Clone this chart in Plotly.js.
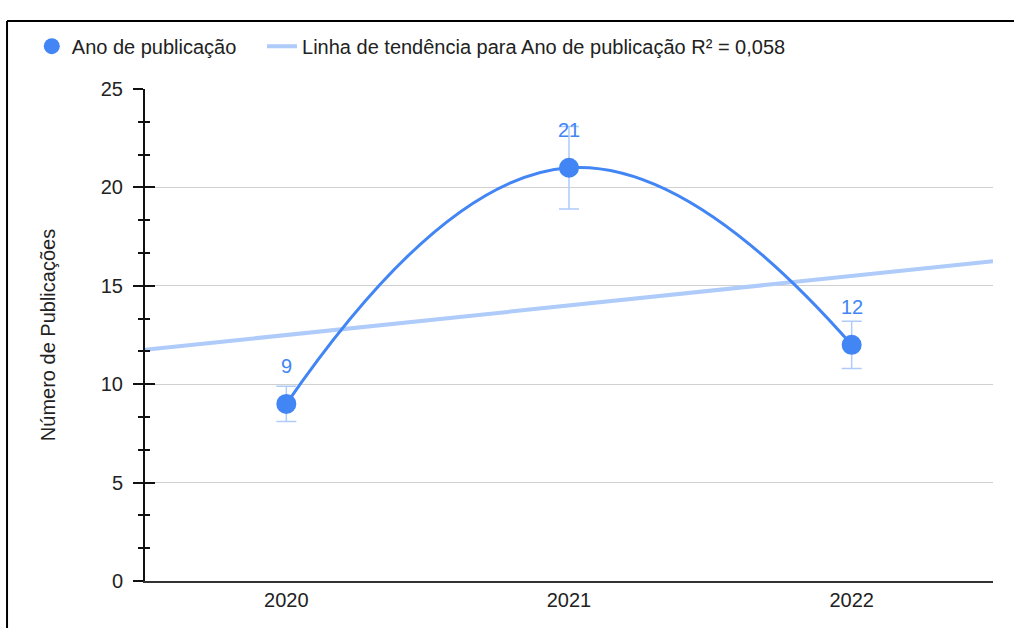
<!DOCTYPE html>
<html>
<head>
<meta charset="utf-8">
<script src="https://cdn.plot.ly/plotly-3.0.1.min.js"></script>
<style>html,body{margin:0;padding:0;background:#fff;}#chart{width:1014px;height:628px;}</style>
</head>
<body>
<div id="chart"></div>
<script>
// ---- data ----
const years = [2020, 2021, 2022];
const publications = [9, 21, 12];
const seriesName = "Ano de publicação";
const trendName = "Linha de tendência para Ano de publicação R² = 0,058";
const yTickVals = [0, 5, 10, 15, 20, 25];
const xTickLabels = ["2020", "2021", "2022"];
const errorPercent = 10;
const xRange = [2019.5, 2022.5];
const yRange = [0, 25];

// linear trend (least squares) from the data
const n = years.length;
const mx = years.reduce((a, b) => a + b, 0) / n;
const my = publications.reduce((a, b) => a + b, 0) / n;
let sxy = 0, sxx = 0;
for (let i = 0; i < n; i++) { sxy += (years[i] - mx) * (publications[i] - my); sxx += (years[i] - mx) ** 2; }
const slope = sxy / sxx, intercept = my - slope * mx;
const trendX = xRange.slice();
const trendY = trendX.map(x => intercept + slope * x);

const blue = "#4285f4";
const light = "#aecbfa";
const font = "Arial, 'Liberation Sans', sans-serif";
const fs = 20;

const traces = [
  { x: trendX, y: trendY, mode: "lines", name: trendName, line: { color: light, width: 4 }, hoverinfo: "skip", legend: "legend2" },
  { x: years, y: publications, mode: "lines", line: { color: blue, width: 3, shape: "spline", smoothing: 1.3 }, showlegend: false, hoverinfo: "skip" },
  { x: years, y: publications, mode: "markers", name: seriesName,
    marker: { color: blue, size: 20 },
    error_y: { type: "percent", value: errorPercent, color: light, thickness: 1.5, width: 10 } },
  { x: years, y: publications, mode: "markers", yaxis: "y2", marker: { color: "rgba(0,0,0,0)", size: 1 }, showlegend: false, hoverinfo: "skip" }
];

const annotations = years.map((x, i) => ({
  x: x, y: publications[i], xref: "x", yref: "y", text: String(publications[i]),
  showarrow: false, yshift: 38, font: { family: font, size: fs, color: blue }
}));

const legendCommon = { orientation: "h", xanchor: "left", y: 1.087, yanchor: "middle",
  bgcolor: "rgba(0,0,0,0)", font: { family: font, size: fs, color: "#222" }, itemwidth: 30 };

const layout = {
  width: 1014, height: 628,
  margin: { l: 145, r: 21, t: 89, b: 47 },
  paper_bgcolor: "#fff", plot_bgcolor: "#fff",
  font: { family: font, size: fs, color: "#222" },
  showlegend: true,
  legend: Object.assign({ x: -0.1335 }, legendCommon),
  legend2: Object.assign({ x: 0.138 }, legendCommon),
  xaxis: { range: xRange, tickvals: years, ticktext: xTickLabels, showgrid: false, zeroline: false,
           showline: true, linecolor: "#333", linewidth: 2, ticks: "", tickfont: { size: fs, color: "#222" } },
  yaxis: { range: yRange, tickvals: yTickVals, showgrid: true, gridcolor: "#d0d0d0", gridwidth: 1.2,
           zeroline: false, showline: true, linecolor: "#111", linewidth: 2,
           ticks: "outside", ticklen: 10, tickwidth: 2, tickcolor: "#111", ticklabelstandoff: 6,
           minor: { dtick: 5 / 3, ticks: "outside", ticklen: 5, tickwidth: 2, tickcolor: "#111", showgrid: false },
           tickfont: { size: fs, color: "#222" },
           title: { text: "Número de Publicações", font: { size: fs, color: "#222" }, standoff: 40 } },
  yaxis2: { range: yRange, overlaying: "y", side: "left", tickvals: yTickVals, showgrid: false, zeroline: false,
            showticklabels: false, ticks: "inside", ticklen: 10, tickwidth: 2, tickcolor: "#111",
            minor: { dtick: 5 / 3, ticks: "inside", ticklen: 5, tickwidth: 2, tickcolor: "#111", showgrid: false } },
  annotations: annotations,
  shapes: [
    { type: "line", xref: "paper", yref: "paper", x0: -0.1627, x1: 1.03, y0: 1.138, y1: 1.138, line: { color: "#000", width: 2 } },
    { type: "line", xref: "paper", yref: "paper", x0: -0.1627, x1: -0.1627, y0: 1.138, y1: -0.1, line: { color: "#000", width: 2 } }
  ]
};

Plotly.newPlot("chart", traces, layout, { displayModeBar: false, staticPlot: true });
</script>
</body>
</html>
